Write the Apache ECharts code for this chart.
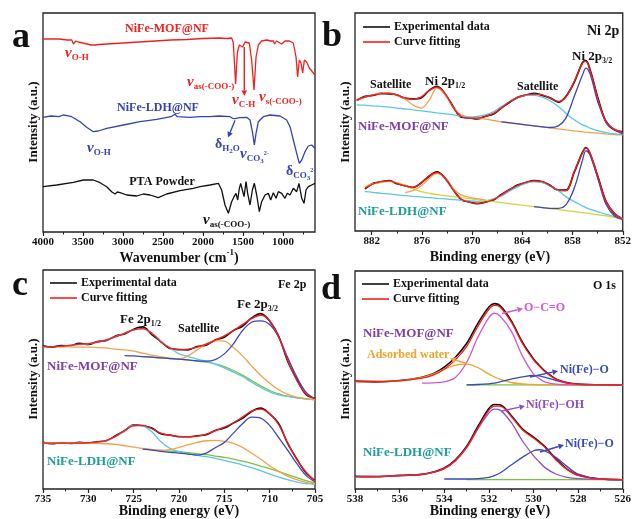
<!DOCTYPE html>
<html><head><meta charset="utf-8">
<script src="https://cdn.jsdelivr.net/npm/echarts/dist/echarts.min.js"></script>
<style>html,body{margin:0;padding:0;background:#fff}#c{width:634px;height:519px}</style>
</head><body><div id="c"></div>
<script>
// ---------- Panel a: FTIR ----------
const aMofWn = [4000,3800,3700,3640,3620,3605,3590,3560,3500,3400,3350,3300,3200,3000,2800,2600,2400,2200,2000,1800,1700,1641,1621,1592,1571,1546,1530,1504,1475,1421,1392,1362,1337,1308,1267,1204,1150,1121,1105,1080,1058,1017,975,920,871,837,817,796,775,754,733,704,671,621,600];
const aMofI = [193,193,192,192,188,186,191,190,189,187,187,187.5,188,189,190,191,192,192.5,193.5,194,193.5,194,189,148,179,187,189,185,190,189,172,142,175,187,191,192,191,191,188,191,191,188,191,191,189,175,155,172,169,159,172,170,164,159,157];
const aLdhWn = [4000,3900,3800,3750,3700,3641,3537,3454,3371,3308,3204,2996,2787,2579,2400,2350,2320,2162,2037,1912,1800,1662,1630,1600,1540,1454,1412,1379,1358,1337,1308,1246,1162,1037,954,912,871,829,796,766,725,683,642,600];
const aLdhI = [114.7,116,115.3,117,116.3,115.3,110.3,104.7,100.3,101,103.7,107,110.3,112.7,115.3,117.7,115.3,114.7,115.3,115.3,116,115.3,113.7,113.3,114.3,114.7,112,98.7,87,98.7,110.3,115.3,117,116,112,105.3,92,78.7,68.7,72,80.3,86,87,83.7];
const aPtaWn = [4000,3829,3621,3496,3371,3287,3204,3142,3100,3070,3037,2954,2829,2746,2662,2558,2454,2287,2121,2037,1912,1808,1767,1725,1683,1642,1612,1587,1566,1546,1529,1508,1487,1462,1442,1412,1383,1358,1329,1296,1267,1225,1183,1154,1121,1087,1058,1017,975,946,912,871,829,800,766,737,712,683,642,600];
const aPtaI = [45.3,47,49.7,52,52,49.3,45.3,40.3,38,40,39.3,37,36,38,37,34.3,38,41.3,43.7,45.3,47,48.7,42,27,18.7,30.3,35.3,38.7,32,43.7,48.7,42,35.3,50.3,38.7,27,42,48.7,37,20.3,30.3,37,38.7,32,39.3,33.7,40.3,38.7,33.7,38.7,37,43.7,40.3,48.7,33.7,28.7,42,45.3,47,48.7];
const aTicks = [4000,3500,3000,2500,2000,1500,1000];
const aMinor = [3750,3250,2750,2250,1750,1250,750];

// ---------- Panel b: Ni 2p ----------
const bE = [883.8,882.8,881.9,880.9,879.9,879.0,878.0,877.1,876.1,875.1,874.2,873.2,872.2,871.3,870.3,869.4,868.4,867.4,866.5,865.5,864.5,863.6,862.6,861.6,860.7,859.7,858.8,857.8,856.8,856.4,855.9,854.9,854.0,853.0,852.0];
const bMofExp = [391,403,406,412,411,408,397,396,399,422,433,409,370,341,339,336,344,351,369,386,401,407,412,406,399,386,403,446,505,510,482,392,327,303,297];
const bMofFit = [393,401,407,411,413,407,399,395,401,421,431,411,368,343,338,338,343,353,368,388,400,408,410,408,398,388,401,448,503,508,480,390,325,305,295];
const bMofOrange = [391,401,408,412,413,407,395,378,368,393,428,408,368,348,341,338,335,331,327,324,321,318,315,312,309,306,303,300,297,296,295,293,291,289,288];
const bMofCyan = [378,377,375,373,371,368,366,363,360,357,354,351,348,344,341,343,348,358,373,388,400,406,406,401,390,373,353,333,318,314,308,300,295,291,289];
const bMofBlue = [null,null,null,null,null,null,null,null,null,null,null,null,null,null,null,null,null,null,327,324,321,318,315,312,310,315,338,403,468,488,470,380,330,303,291];
const bLdhExp = [null,126,142,147,151,142,136,130,144,165,177,157,122,94,87,82,87,94,109,124,138,145,151,147,137,122,122,176,236,250,231,157,89,52,36];
const bLdhFit = [null,128,140,148,150,143,135,131,143,166,175,158,121,95,86,83,86,95,108,125,137,146,150,148,136,123,121,178,235,248,233,156,88,53,35];
const bLdhYellow = [null,133,141,146,148,145,137,127,118,113,109,106,103,100,97,94,91,88,85,82,79,76,73,70,67,64,61,58,55,54,52,48,45,41,37];
const bLdhOrange = [null,null,null,null,null,null,115,121,135,158,173,158,125,108,101,97,93,null,null,null,null,null,null,null,null,null,null,null,null,null,null,null,null,null,null];
const bLdhCyan = [null,118,116,113,111,108,106,104,102,100,98,96,94,92,90,89,91,96,105,120,133,143,147,145,135,121,103,88,75,70,65,57,50,43,38];
const bLdhBlue = [null,null,null,null,null,null,null,null,null,null,null,null,null,null,null,null,null,null,null,null,null,null,73,70,68,68,78,128,213,240,228,150,80,45,35];
const bTicks = [882,876,870,864,858,852];
const bMinor = [879,873,867,861,855];

// ---------- Panel c: Fe 2p ----------
const cE = [735,734,733,732,731,730,729,728,727,726,725,724,723,722,721,720,719,718,717,716,715,714,713,712,711,710,709,708,707,706,705];
const cMofExp = [430,426,431,430,438,434,443,446,460,466,480,487,464,443,422,419,418,428,432,448,456,476,489,514,527,505,459,383,329,284,273];
const cMofFit = [428,428,429,432,435,437,441,448,457,468,478,482,468,442,424,418,420,426,435,447,460,476,494,512,522,506,456,386,326,286,271];
const cMofCyan = [428,428,428,431,434,436,441,448,458,468,478,481,468,445,424,406,398,390,384,375,364,351,338,321,305,292,283,278,274,271,269];
const cMofOrange = [428,428,427,427,426,426,425,424,420,418,414,408,402,397,393,391,400,418,436,446,444,425,400,370,342,318,298,284,276,271,268];
const cMofBlue = [null,null,null,null,null,null,null,null,null,401,400,398,396,394,392,390,388,385,384,389,406,436,476,501,505,494,456,394,336,291,271];
const cMofGreen = [null,null,null,null,null,null,null,null,null,null,null,398,396,394,392,390,387,384,381,376,368,356,342,326,310,296,286,279,274,271,268];
const cLdhExp = [140,136,139,137,140,138,142,145,160,175,193,190,183,166,162,157,157,160,163,176,183,198,212,233,243,226,196,136,90,49,26];
const cLdhFit = [138,138,138,138,138,139,141,146,158,176,190,191,181,168,161,158,157,159,165,175,186,199,216,234,240,226,193,138,88,51,24];
const cLdhCyan = [138,138,138,138,138,139,140,145,157,175,192,190,172,142,122,112,106,101,97,92,86,79,72,64,55,45,36,28,21,16,14];
const cLdhOrange = [138,138,138,138,138,138,137,136,134,130,126,122,119,116,118,125,133,140,145,146,143,137,125,108,90,70,53,38,28,20,16];
const cLdhBlue = [null,null,null,null,null,null,null,null,null,null,null,120,117,113,110,108,105,102,108,124,140,168,196,216,213,191,154,116,76,41,21];
const cLdhGreen = [null,null,null,null,null,null,null,null,null,null,null,120,118,116,114,112,109,106,103,99,95,90,84,77,69,61,52,43,34,25,18];
const cTicks = [735,730,725,720,715,710,705];
const cMinor = [732.5,727.5,722.5,717.5,712.5,707.5];

// ---------- Panel d: O 1s ----------
const dE = [538,537,536,535,534.5,534,533.5,533,532.5,532,531.75,531.5,531,530.5,530,529.75,529.5,529,528.5,528,527,526];
const dMofExp = [324,322,326,336,346,366,396,437,497,547,557,551,506,441,391,372,355,331,320,315,313,312];
const dMofFit = [323,323,325,333,342,360,388,428,488,540,552,547,502,438,388,370,353,330,319,315,313,312];
const dMofOCO = [null,null,null,318,319,322,335,380,455,515,528,520,475,400,345,332,322,315,314,313,null,null];
const dMofWater = [323,323,325,335,345,360,372,375,365,345,337,330,320,316,314,313,313,313,312,312,312,312];
const dMofNiO = [null,null,null,null,null,null,null,313,314,316,318,322,330,337,341,340,336,326,318,314,313,312];
const dMofGreen = [null,null,null,null,null,null,null,313,313,313,313,313,313,313,313,313,313,313,312,312,312,312];
const dLdhExp = [38,37,41,44,51,63,88,128,187,242,254,253,221,181,156,143,128,91,60,42,30,28];
const dLdhFit = [37,38,40,44,50,61,85,124,182,236,249,249,218,178,153,140,126,88,59,41,30,28];
const dLdhOH = [37,38,40,44,50,61,85,124,180,228,240,237,200,145,100,82,65,45,35,31,29,28];
const dLdhNiO = [null,null,null,null,null,30,30,30,31,35,40,48,72,95,115,118,115,95,68,45,30,28];
const dLdhGreen = [null,null,null,null,null,null,null,28,28,28,28,28,28,28,28,28,28,28,28,28,28,28];
const dTicks = [538,536,534,532,530,528,526];
const dMinor = [537,535,533,531,529,527];

// ---------- styling ----------
const FONT = '"Liberation Serif","Times New Roman",serif';
const C = {black:'#111111', red:'#ff1a1a', blue:'#3a48b8', cyan:'#5cc6e6', orange:'#f6a04d',
  yellow:'#d4d436', green:'#7cc242', magenta:'#d557cf', purple:'#8e4fbf', water:'#eea42a',
  irRed:'#f02020', irBlue:'#3443b4', mofLbl:'#7b3fa8', ldhLbl:'#1f9c9c'};

function pairs(xs, ys){ const o=[]; for(let i=0;i<xs.length;i++){ if(ys[i]!=null) o.push([xs[i], ys[i]]); } return o; }
function ln(xs, ys, color, g, smooth, z, w){
  return {type:'line', xAxisIndex:g*2, yAxisIndex:g, data:pairs(xs,ys), symbol:'none',
    smooth: smooth, lineStyle:{color:color, width:w||1.3}, itemStyle:{color:color},
    silent:true, animation:false, z:z||2};
}

const grids = [
  {left:43, top:13, width:272, height:219},
  {left:355, top:13, width:271, height:218},
  {left:43, top:270, width:272, height:219},
  {left:355, top:271, width:270, height:218}
].map(g=>Object.assign({show:true, borderColor:'#222', borderWidth:1.3, backgroundColor:'rgba(0,0,0,0)'}, g));

function xAxes(gi, min, max, major, minor){
  return [
    {type:'value', gridIndex:gi, min:min, max:max, inverse:true, position:'bottom',
      axisLine:{show:false}, splitLine:{show:false},
      axisTick:{show:true, customValues:major, length:4, lineStyle:{color:'#222', width:1.2}},
      axisLabel:{customValues:major, formatter:function(v){ return String(v); },
        fontFamily:FONT, fontWeight:'bold', fontSize:11, color:'#111', margin:5}},
    {type:'value', gridIndex:gi, min:min, max:max, inverse:true, position:'bottom',
      axisLine:{show:false}, splitLine:{show:false}, axisLabel:{show:false},
      axisTick:{show:true, customValues:minor, length:2.5, lineStyle:{color:'#222', width:1}}}
  ];
}
function yAxis(gi, max){
  return {type:'value', gridIndex:gi, min:0, max:max, axisLine:{show:false}, axisTick:{show:false},
    axisLabel:{show:false}, splitLine:{show:false}};
}

const xAxis = [].concat(
  xAxes(0, 600, 4000, aTicks, aMinor),
  xAxes(1, 852, 884, bTicks, bMinor),
  xAxes(2, 705, 735, cTicks, cMinor),
  xAxes(3, 526, 538, dTicks, dMinor));
const yAxisArr = [yAxis(0,219), yAxis(1,653), yAxis(2,658), yAxis(3,655)];

const S = 0.35;
const series = [
  ln(aMofWn, aMofI, C.irRed, 0, false, 3, 1.3),
  ln(aLdhWn, aLdhI, C.irBlue, 0, false, 3, 1.3),
  ln(aPtaWn, aPtaI, C.black, 0, false, 3, 1.3),

  ln(bE, bMofExp, C.black, 1, S, 2, 1.8),
  ln(bE, bMofOrange, C.orange, 1, S, 3),
  ln(bE, bMofCyan, C.cyan, 1, S, 3),
  ln(bE, bMofBlue, C.blue, 1, S, 3),
  ln(bE, bMofFit, C.red, 1, S, 4),
  ln(bE, bLdhExp, C.black, 1, S, 2, 1.8),
  ln(bE, bLdhCyan, C.cyan, 1, S, 3),
  ln(bE, bLdhYellow, C.yellow, 1, S, 3),
  ln(bE, bLdhOrange, C.orange, 1, S, 3),
  ln(bE, bLdhBlue, C.blue, 1, S, 3),
  ln(bE, bLdhFit, C.red, 1, S, 4),

  ln(cE, cMofExp, C.black, 2, S, 2, 1.6),
  ln(cE, cMofGreen, C.green, 2, S, 3),
  ln(cE, cMofCyan, C.cyan, 2, S, 3),
  ln(cE, cMofOrange, C.orange, 2, S, 3),
  ln(cE, cMofBlue, C.blue, 2, S, 3),
  ln(cE, cMofFit, C.red, 2, S, 4),
  ln(cE, cLdhExp, C.black, 2, S, 2, 1.6),
  ln(cE, cLdhGreen, C.green, 2, S, 3),
  ln(cE, cLdhCyan, C.cyan, 2, S, 3),
  ln(cE, cLdhOrange, C.orange, 2, S, 3),
  ln(cE, cLdhBlue, C.blue, 2, S, 3),
  ln(cE, cLdhFit, C.red, 2, S, 4),

  ln(dE, dMofExp, C.black, 3, S, 2, 1.6),
  ln(dE, dMofGreen, C.green, 3, S, 3),
  ln(dE, dMofWater, C.water, 3, S, 3),
  ln(dE, dMofNiO, C.blue, 3, S, 3),
  ln(dE, dMofOCO, C.magenta, 3, S, 3),
  ln(dE, dMofFit, C.red, 3, S, 4),
  ln(dE, dLdhExp, C.black, 3, S, 2, 1.6),
  ln(dE, dLdhGreen, C.green, 3, S, 3),
  ln(dE, dLdhNiO, C.blue, 3, S, 3),
  ln(dE, dLdhOH, C.purple, 3, S, 3),
  ln(dE, dLdhFit, C.red, 3, S, 4)
];

// ---------- text helpers ----------
const mctx = document.createElement('canvas').getContext('2d');
function fnt(size, italic){ return (italic?'italic ':'')+'bold '+size+'px '+FONT; }
function tw(s, size, italic){ mctx.font = fnt(size, italic); return mctx.measureText(s).width; }
function rt(x, y, pieces, color, align){
  const total = pieces.reduce((a,p)=>a+tw(p[0],p[1],p[3]),0);
  let cx = align==='center' ? x-total/2 : x;
  const els = [];
  pieces.forEach(p=>{
    els.push({type:'text', x:cx, y:y+(p[2]||0), silent:true, z:100,
      style:{text:p[0], fill:color, font:fnt(p[1],p[3]), textAlign:'left', textVerticalAlign:'middle', align:'left', verticalAlign:'middle'}});
    cx += tw(p[0],p[1],p[3]);
  });
  return els;
}
function txt(x, y, s, size, color, align){ return rt(x, y, [[s,size,0]], color, align); }
function vtxt(x, y, s, size){
  return [{type:'text', x:x, y:y, rotation:Math.PI/2, silent:true, z:100,
    style:{text:s, fill:'#111', font:fnt(size), textAlign:'center', textVerticalAlign:'middle', align:'center', verticalAlign:'middle'}}];
}
function arrow(x1,y1,x2,y2,color){
  const a=Math.atan2(y2-y1,x2-x1), L=5.5, W=2.8;
  const bx=x2-L*Math.cos(a), by=y2-L*Math.sin(a);
  const px=-Math.sin(a)*W, py=Math.cos(a)*W;
  return [{type:'line', silent:true, z:100, shape:{x1:x1,y1:y1,x2:bx,y2:by}, style:{stroke:color, lineWidth:1.4}},
    {type:'polygon', silent:true, z:100, shape:{points:[[x2,y2],[bx+px,by+py],[bx-px,by-py]]}, style:{fill:color}}];
}
function seg(x1,x2,y,color){
  return [{type:'line', silent:true, z:100, shape:{x1:x1,y1:y,x2:x2,y2:y}, style:{stroke:color, lineWidth:1.6}}];
}
function legend(x, y){
  return [].concat(seg(x, x+27, y, C.black), txt(x+31, y, 'Experimental data', 12, '#111'),
    seg(x, x+27, y+15, C.red), txt(x+31, y+15, 'Curve fitting', 12, '#111'));
}
const nu = (sub, col, x, y) => rt(x, y, [['ν',15,0,true],[sub,9,5]], col);

let G = [];
// panel letters
G = G.concat(txt(12, 38, 'a', 36, '#111'), txt(322, 37, 'b', 36, '#111'), txt(12, 286, 'c', 36, '#111'), txt(321, 290, 'd', 36, '#111'));
// axis titles
G = G.concat(vtxt(34, 122, 'Intensity (a.u.)', 13), vtxt(346, 122, 'Intensity (a.u.)', 13),
  vtxt(34, 379, 'Intensity (a.u.)', 13), vtxt(346, 379, 'Intensity (a.u.)', 13));
G = G.concat(rt(179, 258, [['Wavenumber (cm',14,0],['-1',9,-5],[')',14,0]], '#111', 'center'));
G = G.concat(txt(490, 257, 'Binding energy (eV)', 14, '#111', 'center'),
  txt(179, 511, 'Binding energy (eV)', 14, '#111', 'center'),
  txt(490, 511, 'Binding energy (eV)', 14, '#111', 'center'));

// panel a annotations
G = G.concat(
  txt(167, 29, 'NiFe-MOF@NF', 12, C.irRed, 'center'),
  nu('O-H', C.irRed, 65, 53),
  nu('as(-COO-)', C.irRed, 187, 82),
  nu('C-H', C.irRed, 232, 100),
  nu('s(-COO-)', C.irRed, 259, 97),
  arrow(244.3, 47, 244.3, 96, C.irRed),
  txt(158, 108, 'NiFe-LDH@NF', 12, C.irBlue, 'center'),
  nu('O-H', C.irBlue, 87, 148),
  rt(215, 144, [['δ',14,0],['H',9,5],['2',7,7],['O',9,5]], C.irBlue),
  arrow(235, 120.5, 228, 137.5, C.irBlue),
  rt(240, 154, [['ν',15,0,true],['CO',9,5],['3',7,7],['2-',6,-1]], C.irBlue),
  rt(286, 171, [['δ',14,0],['CO',9,5],['3',7,7],['2-',6,-1]], C.irBlue),
  txt(162, 182, 'PTA Powder', 12, '#111', 'center'),
  nu('as(-COO-)', '#111', 203, 220)
);

// panel b annotations
G = G.concat(legend(363, 27),
  txt(587, 31, 'Ni 2p', 14, '#111'),
  txt(370, 85, 'Satellite', 12, '#111'),
  rt(425, 82, [['Ni 2p',13,0],['1/2',8,4]], '#111'),
  txt(517, 87, 'Satellite', 12, '#111'),
  rt(572, 57, [['Ni 2p',13,0],['3/2',8,4]], '#111'),
  txt(358, 127, 'NiFe-MOF@NF', 13, C.mofLbl),
  txt(358, 212, 'NiFe-LDH@NF', 13, C.ldhLbl)
);

// panel c annotations
G = G.concat(legend(50, 283),
  txt(278, 285, 'Fe 2p', 12, '#111'),
  rt(120, 320, [['Fe 2p',13,0],['1/2',8,4]], '#111'),
  txt(178, 329, 'Satellite', 12, '#111'),
  rt(237, 305, [['Fe 2p',13,0],['3/2',8,4]], '#111'),
  txt(47, 367, 'NiFe-MOF@NF', 13, C.mofLbl),
  txt(47, 462, 'NiFe-LDH@NF', 13, C.ldhLbl)
);

// panel d annotations
G = G.concat(legend(362, 284),
  txt(593, 286, 'O 1s', 12, '#111'),
  txt(524, 308, 'O\u2212C=O', 12, C.magenta),
  arrow(502, 313.5, 523, 308.5, C.magenta),
  txt(363, 334, 'NiFe-MOF@NF', 13, C.mofLbl),
  txt(367, 355, 'Adsorbed water', 12, C.water),
  arrow(467, 363.5, 450, 358.5, C.water),
  txt(560, 370, 'Ni(Fe)\u2212O', 12, C.blue),
  arrow(530, 377, 558, 371, C.blue),
  txt(526, 405, 'Ni(Fe)\u2212OH', 12, C.purple),
  arrow(502, 411, 525, 406, C.purple),
  txt(565, 444, 'Ni(Fe)\u2212O', 12, C.blue),
  arrow(540, 452, 564, 445, C.blue),
  txt(363, 453, 'NiFe-LDH@NF', 13, C.ldhLbl)
);

const chart = echarts.init(document.getElementById('c'), null, {renderer:'canvas'});
chart.setOption({
  animation:false,
  backgroundColor:'#fff',
  grid: grids,
  xAxis: xAxis,
  yAxis: yAxisArr,
  series: series,
  graphic: {elements: G}
});
</script></body></html>
